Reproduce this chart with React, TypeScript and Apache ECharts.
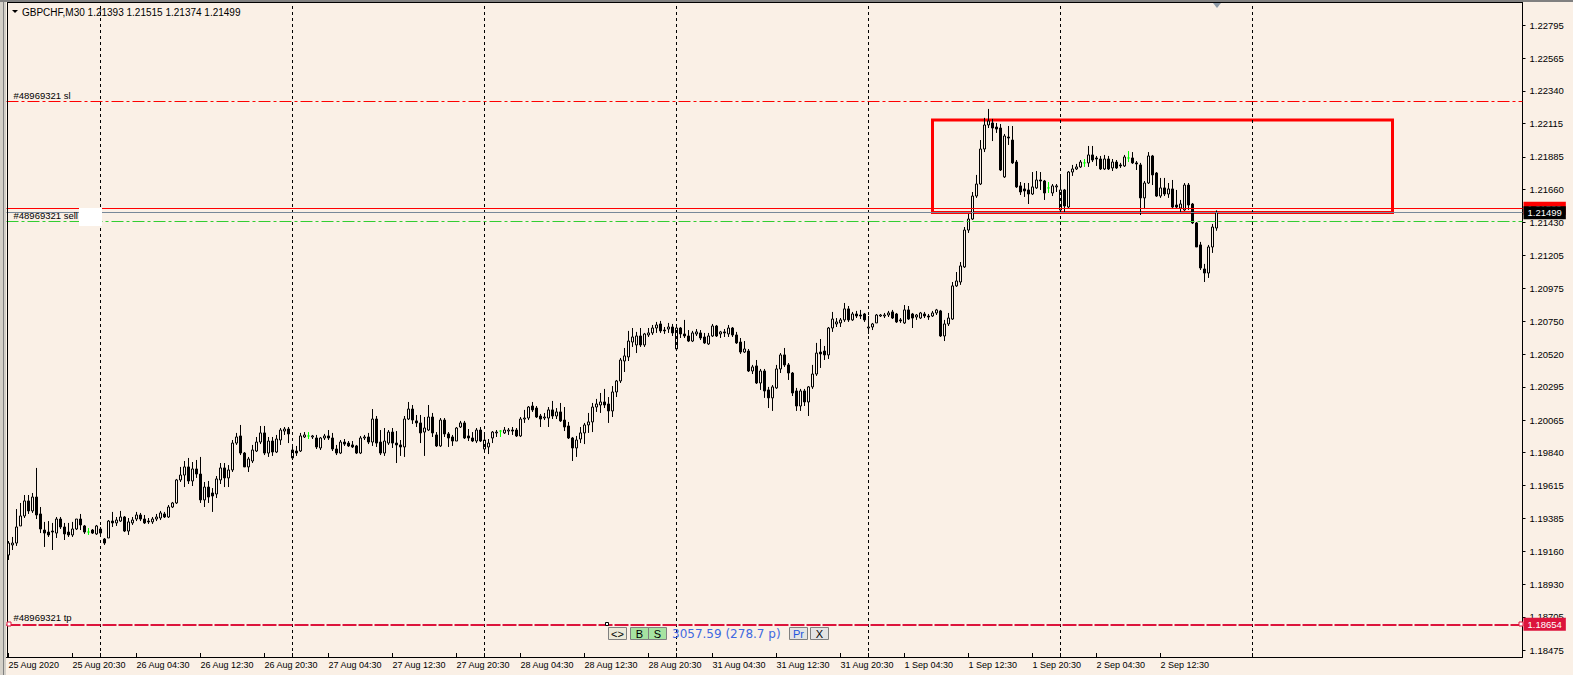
import { useEffect, useRef } from 'react';
import * as echarts from 'echarts';

const SYMBOL = 'GBPCHF,M30';
const YEAR = '2020';
const ORDER = '#48969321';
const TRADING_DAYS = ['25 Aug', '26 Aug', '27 Aug', '28 Aug', '31 Aug', '1 Sep', '2 Sep', '3 Sep', '4 Sep'];
const FIRST_SLOT = 25; // first bar: 25 Aug 12:30
const SLOT_COUNT = 379;

const OPEN = [
  1.19133,1.19203,1.19216,1.19334,1.19403,1.19507,1.19438,1.19534,1.19417,1.19306,
  1.19292,1.19299,1.19285,1.19382,1.19327,1.19292,1.19272,1.19313,1.19382,1.19334,
  1.19292,1.19306,1.19279,1.19313,1.19244,1.19251,1.19368,1.19355,1.19368,1.19396,
  1.19299,1.19355,1.19382,1.19410,1.19382,1.19368,1.19362,1.19382,1.19389,1.19417,
  1.19396,1.19465,1.19493,1.19652,1.19686,1.19742,1.19645,1.19728,1.19693,1.19514,
  1.19603,1.19562,1.19555,1.19652,1.19735,1.19666,1.19721,1.19907,1.19956,1.19838,
  1.19742,1.19783,1.19852,1.19914,1.19977,1.19838,1.19921,1.19845,1.19928,1.19990,
  1.20004,1.19804,1.19852,1.19852,1.19949,1.19956,1.19949,1.19942,1.19873,1.19942,
  1.19956,1.19942,1.19866,1.19838,1.19914,1.19907,1.19894,1.19887,1.19838,1.19942,
  1.19949,1.19914,1.20073,1.19914,1.19838,1.19907,1.19983,1.19907,1.19894,1.19880,
  1.20073,1.20142,1.20060,1.20046,1.19983,1.19997,1.20087,1.19963,1.19887,1.20066,
  1.19970,1.19949,1.19921,1.20018,1.20046,1.19956,1.19942,1.19921,1.19997,1.19866,
  1.19880,1.19942,1.19977,1.19990,1.19977,1.19990,1.19997,1.19997,1.19956,1.20073,
  1.20080,1.20163,1.20149,1.20094,1.20080,1.20080,1.20136,1.20094,1.20122,1.20066,
  1.20025,1.19942,1.19873,1.19935,1.19977,1.20032,1.20053,1.20156,1.20170,1.20191,
  1.20177,1.20129,1.20260,1.20336,1.20474,1.20502,1.20605,1.20585,1.20647,1.20585,
  1.20654,1.20668,1.20702,1.20730,1.20688,1.20695,1.20709,1.20557,1.20702,1.20661,
  1.20647,1.20612,1.20661,1.20668,1.20640,1.20592,1.20647,1.20716,1.20661,1.20675,
  1.20661,1.20702,1.20654,1.20605,1.20536,1.20543,1.20405,1.20440,1.20322,1.20405,
  1.20274,1.20219,1.20288,1.20419,1.20516,1.20447,1.20391,1.20267,1.20163,1.20267,
  1.20191,1.20295,1.20384,1.20536,1.20543,1.20516,1.20702,1.20730,1.20737,1.20758,
  1.20834,1.20758,1.20799,1.20792,1.20799,1.20702,1.20709,1.20737,1.20785,1.20785,
  1.20792,1.20813,1.20799,1.20758,1.20737,1.20827,1.20799,1.20778,1.20771,1.20799,
  1.20785,1.20785,1.20806,1.20820,1.20647,1.20730,1.20764,1.20993,1.21020,1.21124,
  1.21379,1.21455,1.21614,1.21697,1.21939,1.22105,1.22119,1.22091,1.22084,1.21746,
  1.22022,1.22001,1.21849,1.21684,1.21663,1.21656,1.21628,1.21670,1.21725,1.21718,
  1.21670,1.21635,1.21677,1.21518,1.21656,1.21538,1.21780,1.21801,1.21815,1.21843,
  1.21843,1.21898,1.21877,1.21870,1.21801,1.21870,1.21808,1.21849,1.21829,1.21822,
  1.21877,1.21877,1.21843,1.21829,1.21601,1.21704,1.21891,1.21773,1.21614,1.21670,
  1.21628,1.21663,1.21552,1.21531,1.21518,1.21690,1.21559,1.21428,1.21276,1.21110,
  1.21082,1.21262,1.21393,
];
const HIGH = [
  1.19230,1.19258,1.19451,1.19493,1.19548,1.19548,1.19562,1.19735,1.19465,1.19362,
  1.19368,1.19355,1.19396,1.19396,1.19355,1.19355,1.19362,1.19382,1.19417,1.19341,
  1.19320,1.19313,1.19341,1.19327,1.19251,1.19375,1.19431,1.19396,1.19438,1.19403,
  1.19389,1.19396,1.19431,1.19424,1.19410,1.19389,1.19396,1.19417,1.19438,1.19431,
  1.19479,1.19500,1.19659,1.19742,1.19783,1.19804,1.19776,1.19790,1.19811,1.19638,
  1.19645,1.19596,1.19679,1.19769,1.19769,1.19755,1.19928,1.19977,1.20032,1.19845,
  1.19811,1.19894,1.19949,1.20025,1.20025,1.19949,1.19949,1.19963,1.20011,1.20018,
  1.20018,1.19880,1.19887,1.19977,1.19983,1.19983,1.19963,1.19963,1.19949,1.19970,
  1.19997,1.19977,1.19894,1.19928,1.19935,1.19921,1.19921,1.19894,1.19956,1.19963,
  1.19977,1.20142,1.20094,1.19997,1.20011,1.19997,1.20011,1.19990,1.19928,1.20094,
  1.20191,1.20170,1.20101,1.20101,1.20087,1.20170,1.20115,1.19983,1.20080,1.20080,
  1.19983,1.19963,1.20018,1.20060,1.20060,1.20004,1.19983,1.20011,1.20018,1.19963,
  1.19935,1.19990,1.19997,1.19997,1.20018,1.20011,1.20018,1.20011,1.20087,1.20136,
  1.20163,1.20191,1.20163,1.20108,1.20115,1.20156,1.20198,1.20149,1.20184,1.20156,
  1.20053,1.19949,1.19956,1.20018,1.20046,1.20115,1.20184,1.20212,1.20253,1.20281,
  1.20225,1.20301,1.20343,1.20495,1.20564,1.20682,1.20702,1.20675,1.20702,1.20668,
  1.20702,1.20723,1.20744,1.20751,1.20709,1.20737,1.20730,1.20723,1.20709,1.20758,
  1.20688,1.20682,1.20695,1.20688,1.20668,1.20668,1.20730,1.20723,1.20682,1.20695,
  1.20723,1.20709,1.20675,1.20633,1.20612,1.20557,1.20447,1.20481,1.20419,1.20419,
  1.20295,1.20308,1.20447,1.20529,1.20564,1.20460,1.20398,1.20288,1.20281,1.20281,
  1.20301,1.20447,1.20599,1.20626,1.20578,1.20709,1.20813,1.20771,1.20771,1.20875,
  1.20854,1.20813,1.20820,1.20827,1.20806,1.20785,1.20737,1.20799,1.20799,1.20806,
  1.20820,1.20827,1.20806,1.20771,1.20861,1.20854,1.20806,1.20799,1.20813,1.20813,
  1.20799,1.20820,1.20834,1.20827,1.20758,1.20806,1.21020,1.21089,1.21158,1.21400,
  1.21490,1.21642,1.21760,1.22001,1.22154,1.22216,1.22147,1.22119,1.22112,1.22043,
  1.22098,1.22098,1.21863,1.21711,1.21704,1.21704,1.21780,1.21787,1.21780,1.21725,
  1.21711,1.21697,1.21697,1.21746,1.21663,1.21787,1.21829,1.21836,1.21863,1.21870,
  1.21960,1.21960,1.21891,1.21891,1.21898,1.21891,1.21870,1.21863,1.21843,1.21898,
  1.21925,1.21918,1.21856,1.21843,1.21718,1.21918,1.21898,1.21780,1.21739,1.21739,
  1.21704,1.21725,1.21656,1.21587,1.21704,1.21704,1.21566,1.21435,1.21297,1.21145,
  1.21276,1.21421,1.21515,
];
const LOW = [
  1.19099,1.19168,1.19196,1.19334,1.19389,1.19417,1.19424,1.19382,1.19285,1.19189,
  1.19258,1.19168,1.19251,1.19313,1.19237,1.19258,1.19258,1.19306,1.19306,1.19279,
  1.19272,1.19279,1.19272,1.19272,1.19203,1.19251,1.19327,1.19334,1.19362,1.19292,
  1.19272,1.19341,1.19368,1.19368,1.19348,1.19348,1.19348,1.19368,1.19375,1.19389,
  1.19389,1.19458,1.19486,1.19638,1.19603,1.19624,1.19610,1.19666,1.19493,1.19465,
  1.19493,1.19431,1.19527,1.19624,1.19603,1.19603,1.19707,1.19894,1.19824,1.19742,
  1.19707,1.19769,1.19845,1.19900,1.19824,1.19811,1.19818,1.19838,1.19894,1.19963,
  1.19907,1.19790,1.19818,1.19845,1.19942,1.19935,1.19935,1.19866,1.19859,1.19928,
  1.19928,1.19852,1.19824,1.19831,1.19887,1.19880,1.19873,1.19831,1.19831,1.19928,
  1.19900,1.19887,1.19880,1.19824,1.19818,1.19894,1.19873,1.19769,1.19818,1.19811,
  1.20066,1.20039,1.20018,1.19907,1.19818,1.19990,1.19949,1.19880,1.19880,1.19949,
  1.19880,1.19887,1.19921,1.20011,1.19935,1.19921,1.19914,1.19907,1.19914,1.19859,
  1.19831,1.19907,1.19949,1.19949,1.19970,1.19963,1.19963,1.19949,1.19949,1.20046,
  1.20066,1.20122,1.20080,1.20018,1.20066,1.20018,1.20073,1.20073,1.20053,1.19990,
  1.19935,1.19783,1.19811,1.19907,1.19900,1.19977,1.19983,1.20122,1.20115,1.20149,
  1.20046,1.20087,1.20225,1.20322,1.20398,1.20474,1.20571,1.20529,1.20571,1.20571,
  1.20640,1.20654,1.20668,1.20668,1.20661,1.20668,1.20647,1.20550,1.20633,1.20633,
  1.20605,1.20605,1.20647,1.20619,1.20592,1.20585,1.20640,1.20640,1.20633,1.20640,
  1.20640,1.20640,1.20592,1.20523,1.20529,1.20398,1.20384,1.20315,1.20274,1.20219,
  1.20149,1.20129,1.20281,1.20391,1.20433,1.20343,1.20232,1.20129,1.20129,1.20163,
  1.20094,1.20281,1.20371,1.20426,1.20481,1.20488,1.20675,1.20709,1.20709,1.20744,
  1.20744,1.20751,1.20771,1.20764,1.20744,1.20661,1.20688,1.20737,1.20778,1.20771,
  1.20778,1.20764,1.20737,1.20737,1.20730,1.20758,1.20702,1.20758,1.20764,1.20771,
  1.20758,1.20778,1.20792,1.20640,1.20612,1.20716,1.20758,1.20986,1.21000,1.21117,
  1.21359,1.21449,1.21601,1.21690,1.21918,1.22084,1.21994,1.22050,1.21787,1.21739,
  1.21967,1.21836,1.21670,1.21621,1.21608,1.21559,1.21621,1.21663,1.21656,1.21587,
  1.21635,1.21614,1.21642,1.21504,1.21504,1.21531,1.21753,1.21794,1.21808,1.21815,
  1.21815,1.21849,1.21822,1.21794,1.21794,1.21794,1.21787,1.21801,1.21808,1.21815,
  1.21849,1.21836,1.21794,1.21483,1.21524,1.21697,1.21690,1.21608,1.21601,1.21614,
  1.21601,1.21531,1.21531,1.21504,1.21511,1.21518,1.21421,1.21262,1.21103,1.21020,
  1.21048,1.21221,1.21374,
];
const CLOSE = [
  1.19216,1.19216,1.19327,1.19403,1.19507,1.19438,1.19534,1.19410,1.19313,1.19285,
  1.19272,1.19292,1.19382,1.19327,1.19279,1.19272,1.19313,1.19382,1.19341,1.19292,
  1.19292,1.19285,1.19334,1.19285,1.19216,1.19368,1.19355,1.19375,1.19396,1.19299,
  1.19362,1.19375,1.19410,1.19382,1.19355,1.19362,1.19382,1.19396,1.19424,1.19396,
  1.19465,1.19493,1.19652,1.19686,1.19742,1.19645,1.19728,1.19693,1.19514,1.19603,
  1.19534,1.19541,1.19659,1.19735,1.19666,1.19721,1.19907,1.19949,1.19838,1.19742,
  1.19797,1.19859,1.19914,1.19977,1.19838,1.19921,1.19845,1.19935,1.19997,1.20004,
  1.19970,1.19859,1.19838,1.19956,1.19963,1.19956,1.19956,1.19880,1.19942,1.19956,
  1.19942,1.19866,1.19838,1.19914,1.19900,1.19887,1.19880,1.19838,1.19942,1.19949,
  1.19914,1.20073,1.19907,1.19838,1.19921,1.19983,1.19907,1.19894,1.19880,1.20073,
  1.20142,1.20066,1.20046,1.19977,1.20011,1.20087,1.19977,1.19887,1.20066,1.19970,
  1.19942,1.19921,1.20011,1.20046,1.19942,1.19942,1.19921,1.19997,1.19921,1.19928,
  1.19907,1.19983,1.19983,1.19990,1.19997,1.19997,1.19990,1.19956,1.20073,1.20080,
  1.20156,1.20136,1.20087,1.20073,1.20087,1.20136,1.20094,1.20122,1.20060,1.20018,
  1.19942,1.19873,1.19928,1.19977,1.20032,1.20053,1.20156,1.20177,1.20191,1.20170,
  1.20129,1.20260,1.20336,1.20481,1.20509,1.20612,1.20640,1.20647,1.20585,1.20661,
  1.20668,1.20702,1.20723,1.20682,1.20682,1.20709,1.20668,1.20702,1.20661,1.20647,
  1.20612,1.20668,1.20675,1.20633,1.20599,1.20647,1.20716,1.20647,1.20675,1.20668,
  1.20702,1.20654,1.20599,1.20536,1.20557,1.20405,1.20433,1.20322,1.20405,1.20267,
  1.20219,1.20295,1.20419,1.20516,1.20447,1.20391,1.20253,1.20163,1.20267,1.20191,
  1.20295,1.20384,1.20529,1.20523,1.20516,1.20702,1.20764,1.20744,1.20758,1.20834,
  1.20758,1.20799,1.20785,1.20785,1.20758,1.20709,1.20730,1.20792,1.20792,1.20792,
  1.20806,1.20771,1.20744,1.20751,1.20827,1.20764,1.20771,1.20792,1.20806,1.20785,
  1.20778,1.20806,1.20827,1.20647,1.20730,1.20771,1.20993,1.21027,1.21131,1.21379,
  1.21455,1.21614,1.21697,1.21939,1.22105,1.22133,1.22084,1.22077,1.21794,1.22029,
  1.22015,1.21843,1.21677,1.21642,1.21649,1.21628,1.21677,1.21725,1.21718,1.21635,
  1.21670,1.21684,1.21684,1.21656,1.21545,1.21780,1.21801,1.21815,1.21849,1.21843,
  1.21898,1.21863,1.21870,1.21801,1.21870,1.21801,1.21849,1.21808,1.21822,1.21884,
  1.21877,1.21843,1.21836,1.21601,1.21704,1.21891,1.21760,1.21614,1.21670,1.21628,
  1.21663,1.21538,1.21538,1.21559,1.21690,1.21552,1.21428,1.21262,1.21117,1.21082,
  1.21262,1.21400,1.21499,
];

const PRICE_TICKS = [
  1.22795, 1.22565, 1.2234, 1.22115, 1.21885, 1.2166, 1.2143, 1.21205, 1.20975, 1.2075,
  1.2052, 1.20295, 1.20065, 1.1984, 1.19615, 1.19385, 1.1916, 1.1893, 1.18705, 1.18475,
];
const PRICE_MIN = 1.184285;
const PRICE_MAX = 1.22948;

const SL_PRICE = 1.2227;
const ENTRY_PRICE = 1.2144;
const TP_PRICE = 1.18654;
const HLINE_PRICE = 1.21529;
const BOX_TOP = 1.2214;
const BOX_BOTTOM = 1.215;
const BOX_FROM_BAR = 231;
const BOX_TO_BAR = 346;
const PROFIT_TEXT = '3057.59 (278.7 p)';

const BG = '#FAF0E6';
const FONT = "'Liberation Sans', Arial, sans-serif";

function buildCategories(): string[] {
  const out: string[] = [];
  for (let d = 0; d < TRADING_DAYS.length && out.length < SLOT_COUNT; d++) {
    for (let s = d === 0 ? FIRST_SLOT : 0; s < 48 && out.length < SLOT_COUNT; s++) {
      const hh = String(Math.floor(s / 2)).padStart(2, '0');
      const mm = s % 2 ? '30' : '00';
      out.push(`${TRADING_DAYS[d]} ${hh}:${mm}`);
    }
  }
  return out;
}

function buildOption() {
  const categories = buildCategories();
  const n = OPEN.length;
  const last = n - 1;
  const data = OPEN.map((o, i) => {
    const item: any = { value: [o, CLOSE[i], LOW[i], HIGH[i]] };
    if (o === CLOSE[i]) {
      item.itemStyle = { color: '#00ff00', color0: '#00ff00', borderColor: '#00ff00', borderColor0: '#00ff00', borderColorDoji: '#00ff00' };
    }
    return item;
  });
  const midnight: number[] = [];
  categories.forEach((c, i) => {
    if (c.endsWith('00:00') && i < n + 48) midnight.push(i);
  });
  const isLabel = (i: number) => i % 16 === 0 && i < n;
  const bid = CLOSE[last];
  const fmt = (v: number) => v.toFixed(5);
  const clear = 'rgba(0,0,0,0)';

  const markLineData: any[] = [
    ...midnight.map((i) => ({
      xAxis: categories[i],
      lineStyle: { color: '#000', type: [3, 3], width: 1 },
      label: { show: false },
    })),
    {
      yAxis: SL_PRICE,
      lineStyle: { color: '#ff0000', type: [12, 3, 3, 3], width: 1 },
      label: { show: true, position: 'insideStartTop', formatter: `${ORDER} sl`, color: '#000', fontSize: 9.5, distance: [7, 1] },
    },
    {
      yAxis: HLINE_PRICE,
      lineStyle: { color: '#ff0000', type: 'solid', width: 1 },
      label: { show: true, position: 'end', formatter: fmt(HLINE_PRICE), color: '#fff', backgroundColor: '#ff0000', padding: [2, 4, 1, 4], fontSize: 9.5, distance: 1 },
    },
    {
      yAxis: bid,
      lineStyle: { color: '#778899', type: 'solid', width: 1 },
      label: { show: true, position: 'end', formatter: fmt(bid), color: '#fff', backgroundColor: '#000', padding: [2, 4, 1, 4], fontSize: 9.5, distance: 1 },
    },
    {
      yAxis: ENTRY_PRICE,
      lineStyle: { color: '#32cd32', type: [12, 3, 3, 3], width: 1 },
      label: { show: true, position: 'insideStartTop', formatter: `${ORDER} sell`, color: '#000', fontSize: 9.5, distance: [7, 1] },
    },
    {
      yAxis: TP_PRICE,
      lineStyle: { color: '#dc143c', type: [14, 2], width: 2 },
      label: { show: true, position: 'insideStartTop', formatter: `${ORDER} tp`, color: '#000', fontSize: 9.5, distance: [7, 2] },
    },
    {
      yAxis: TP_PRICE,
      lineStyle: { color: clear, type: 'solid', width: 1 },
      label: { show: true, position: 'end', formatter: fmt(TP_PRICE), color: '#fff', backgroundColor: '#dc143c', padding: [2, 4, 1, 4], fontSize: 9.5, distance: 1 },
    },
  ];

  const graphic: any[] = [
    // window frame
    { type: 'rect', z: 200, shape: { x: 0, y: 0, width: 6, height: 675 }, style: { fill: '#d4d0c8' } },
    { type: 'line', z: 200, shape: { x1: 3.5, y1: 0, x2: 3.5, y2: 675 }, style: { stroke: '#808080', lineWidth: 1 } },
    { type: 'line', z: 200, shape: { x1: 7.5, y1: 2, x2: 7.5, y2: 657 }, style: { stroke: '#000', lineWidth: 1 } },
    { type: 'rect', z: 200, shape: { x: 0, y: 0, width: 1573, height: 2 }, style: { fill: '#808080' } },
    { type: 'line', z: 200, shape: { x1: 7, y1: 2.5, x2: 1523, y2: 2.5 }, style: { stroke: '#000', lineWidth: 1 } },
    // header
    { type: 'polygon', z: 200, shape: { points: [[12, 10], [18, 10], [15, 13]] }, style: { fill: '#000' } },
    {
      type: 'text', z: 200, x: 22, y: 12,
      style: {
        text: `${SYMBOL} ${fmt(OPEN[last])} ${fmt(HIGH[last])} ${fmt(LOW[last])} ${fmt(CLOSE[last])}`,
        font: `10px ${FONT}`, fill: '#000', verticalAlign: 'middle',
      },
    },
    // chart shift marker
    { type: 'polygon', z: 200, shape: { points: [[1213, 3], [1221, 3], [1217, 8]] }, style: { fill: '#8c99a6' } },
    // label box of the sell line
    { type: 'rect', z: 200, shape: { x: 79, y: 208, width: 23, height: 18 }, style: { fill: '#ffffff' } },
    // TP handles
    { type: 'rect', z: 200, shape: { x: 7, y: 622, width: 4, height: 4 }, style: { fill: '#fff', stroke: '#dc143c', lineWidth: 1 } },
    { type: 'rect', z: 200, shape: { x: 1519, y: 622, width: 4, height: 4 }, style: { fill: '#fff', stroke: '#dc143c', lineWidth: 1 } },
    { type: 'rect', z: 200, shape: { x: 605.5, y: 622.5, width: 3, height: 3 }, style: { fill: '#fff', stroke: '#000', lineWidth: 1 } },
    // trade panel
    ...[
      { x: 608.5, w: 18, t: '<>', fill: '#ece9d8', c: '#000' },
      { x: 630.5, w: 18, t: 'B', fill: '#a6e3a1', c: '#000' },
      { x: 648.5, w: 18, t: 'S', fill: '#a6e3a1', c: '#000' },
      { x: 789.5, w: 18, t: 'Pr', fill: '#e4e4e4', c: '#2255dd' },
      { x: 810.5, w: 18, t: 'X', fill: '#e4e4e4', c: '#000' },
    ].flatMap((b) => [
      { type: 'rect', z: 200, shape: { x: b.x, y: 627.5, width: b.w, height: 12 }, style: { fill: b.fill, stroke: '#808080', lineWidth: 1 } },
      { type: 'text', z: 201, x: b.x + b.w / 2, y: 634, style: { text: b.t, font: `11px ${FONT}`, fill: b.c, align: 'center', verticalAlign: 'middle' } },
    ]),
    { type: 'text', z: 201, x: 672, y: 634, style: { text: PROFIT_TEXT, font: "12px 'DejaVu Sans', sans-serif", fill: '#4169e1', verticalAlign: 'middle' } },
  ];

  return {
    animation: false,
    backgroundColor: BG,
    textStyle: { fontFamily: FONT },
    grid: { left: 6.5, right: 1573 - 1522.5, top: 3, bottom: 675 - 657, containLabel: false },
    xAxis: {
      type: 'category',
      data: categories,
      boundaryGap: true,
      axisLine: { show: true, onZero: false, lineStyle: { color: '#000', width: 1 } },
      axisTick: {
        show: true, alignWithLabel: true, length: 4, inside: true,
        interval: (i: number) => isLabel(i) || midnight.includes(i),
        lineStyle: { color: '#000' },
      },
      axisLabel: {
        interval: (i: number) => isLabel(i),
        formatter: (v: string, i: number) => (i === 0 ? `${v.split(' ').slice(0, 2).join(' ')} ${YEAR}` : v),
        align: 'left', fontSize: 9, color: '#000', margin: 3, fontFamily: FONT,
      },
      splitLine: { show: false },
    },
    yAxis: {
      type: 'value',
      position: 'right',
      min: PRICE_MIN,
      max: PRICE_MAX,
      scale: true,
      axisLine: { show: true, lineStyle: { color: '#000', width: 1 } },
      axisTick: { show: true, length: 3, customValues: PRICE_TICKS, lineStyle: { color: '#000' } },
      axisLabel: { customValues: PRICE_TICKS, formatter: (v: number) => v.toFixed(5), fontSize: 9.5, color: '#000', margin: 7, fontFamily: FONT },
      splitLine: { show: false },
    },
    series: [
      {
        type: 'candlestick',
        data,
        barWidth: 2,
        clip: true,
        itemStyle: {
          color: BG, color0: '#000', borderColor: '#000', borderColor0: '#000', borderColorDoji: '#00ff00', borderWidth: 1,
        },
        markLine: { symbol: ['none', 'none'], silent: true, animation: false, precision: 5, data: markLineData },
        markArea: {
          silent: true,
          itemStyle: { color: 'rgba(0,0,0,0)', borderColor: '#ff0000', borderWidth: 3 },
          data: [[{ xAxis: categories[BOX_FROM_BAR], yAxis: BOX_TOP }, { xAxis: categories[BOX_TO_BAR], yAxis: BOX_BOTTOM }]],
        },
      },
    ],
    graphic,
  };
}

export default function App() {
  const ref = useRef<HTMLDivElement>(null);
  useEffect(() => {
    if (!ref.current) return;
    const chart = echarts.init(ref.current, null, { renderer: 'svg' });
    chart.setOption(buildOption() as any);
    return () => chart.dispose();
  }, []);
  return <div ref={ref} style={{ position: 'fixed', left: 0, top: 0, width: 1573, height: 675 }} />;
}
